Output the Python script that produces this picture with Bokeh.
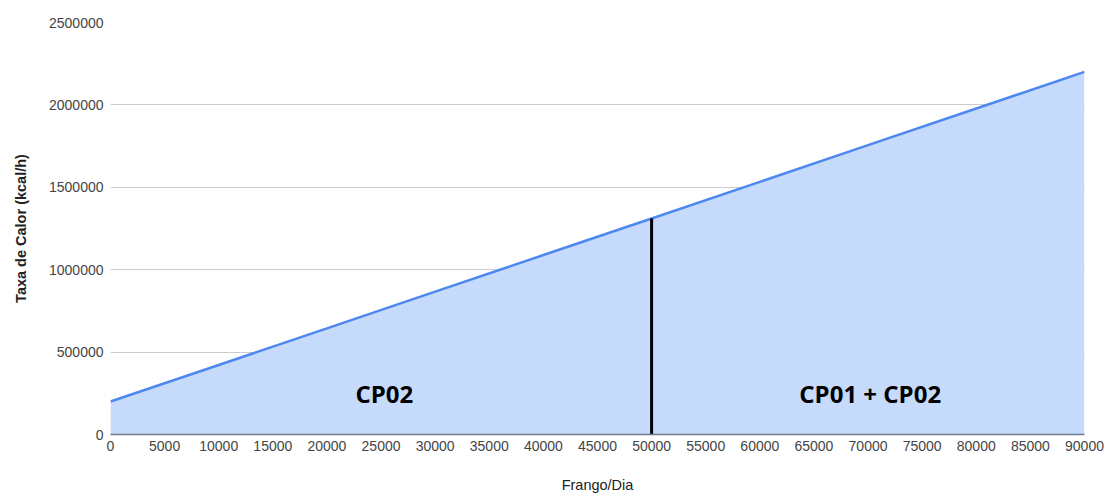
from bokeh.plotting import figure
from bokeh.models import FixedTicker, BasicTickFormatter, Range1d, ColumnDataSource
from bokeh.core.properties import value
from bokeh.embed import file_html
from bokeh.resources import INLINE

# Heat rate (kcal/h) as a function of chickens per day
frango_dia = [0, 10000, 20000, 30000, 40000, 50000, 60000, 70000, 80000, 90000]
taxa_calor = [200000, 422000, 644000, 867000, 1089000, 1311000, 1533000, 1756000, 1978000, 2200000]

# Split point between the two operating regions
divisa_x = 50000
divisa_y = 1311000

# Region labels
regioes = ["CP02", "CP01 + CP02"]
regioes_x = [25300, 70200]
regioes_y = [250000, 250000]

y_ticks = [0, 500000, 1000000, 1500000, 2000000, 2500000]
x_ticks = list(range(0, 90001, 5000))

p = figure(width=1114, height=496, output_backend="svg", toolbar_location=None,
           x_range=Range1d(0, 90000), y_range=Range1d(0, 2500000))
p.min_border_left = 110
p.min_border_right = 30
p.min_border_top = 22
p.min_border_bottom = 62
p.outline_line_color = None
p.background_fill_color = "white"
p.border_fill_color = "white"

src = ColumnDataSource(dict(x=frango_dia, y=taxa_calor, y0=[0] * len(frango_dia)))
p.varea(x="x", y1="y0", y2="y", source=src, fill_color="#c6dafc", fill_alpha=1.0)
p.line(x="x", y="y", source=src, line_color="#4d88f0", line_width=2.5)

p.segment(x0=[divisa_x], y0=[0], x1=[divisa_x], y1=[divisa_y], line_color="black", line_width=3)

p.text(x=regioes_x, y=regioes_y, text=regioes, text_align="center", text_baseline="middle",
       text_font=value("Open Sans"), text_font_style="bold", text_font_size="24px",
       text_color="black")

# Grid
p.xgrid.grid_line_color = None
p.ygrid.grid_line_color = "#cccccc"
p.ygrid.grid_line_width = 1
p.ygrid.ticker = FixedTicker(ticks=y_ticks)

# Axes
for ax in (p.xaxis[0], p.yaxis[0]):
    ax.major_tick_line_color = None
    ax.minor_tick_line_color = None
    ax.major_tick_out = 0
    ax.major_tick_in = 0
    ax.minor_tick_out = 0
    ax.major_label_text_font = "Liberation Sans"
    ax.major_label_text_font_size = "14px"
    ax.major_label_text_color = "#444444"
    ax.axis_label_text_font = "Liberation Sans"
    ax.axis_label_text_color = "#222222"
    ax.axis_label_text_font_size = "14.5px"

p.yaxis.ticker = FixedTicker(ticks=y_ticks)
p.yaxis.formatter = BasicTickFormatter(use_scientific=False)
p.yaxis.axis_line_color = None
p.yaxis.major_label_standoff = 7
p.yaxis.axis_label = "Taxa de Calor (kcal/h)"
p.yaxis.axis_label_text_font_style = "bold"
p.yaxis.axis_label_standoff = 17

p.xaxis.ticker = FixedTicker(ticks=x_ticks)
p.xaxis.formatter = BasicTickFormatter(use_scientific=False)
p.xaxis.axis_line_color = "#6f7b8c"
p.xaxis.axis_line_width = 1.5
p.xaxis.major_label_standoff = 6
p.xaxis.axis_label = "Frango/Dia"
p.xaxis.axis_label_text_font_style = "normal"
p.xaxis.axis_label_standoff = 23

open("out.html", "w").write(file_html(p, INLINE))
